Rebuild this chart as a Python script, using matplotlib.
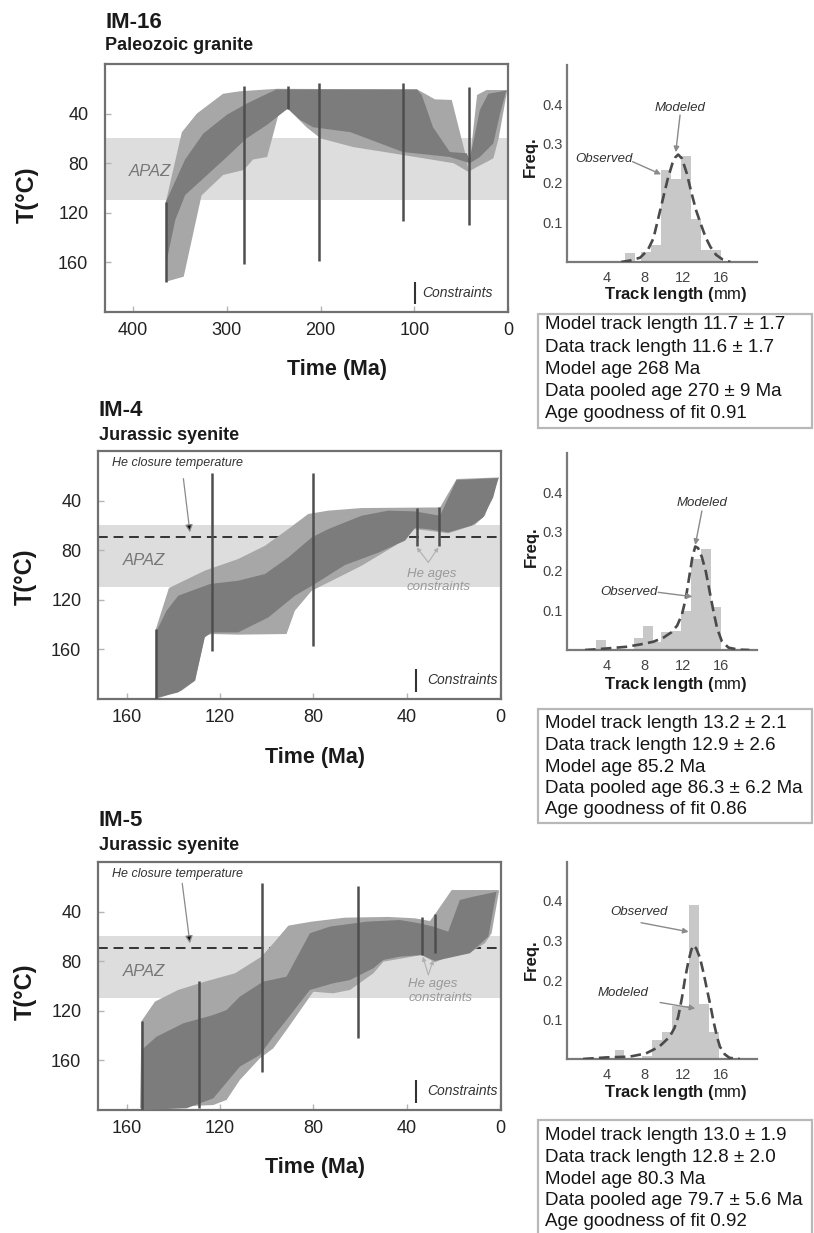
import matplotlib
matplotlib.use("Agg")
import matplotlib.pyplot as plt
from matplotlib.patches import Rectangle

plt.rcParams['font.family'] = ['Liberation Sans', 'DejaVu Sans']
plt.rcParams['mathtext.fontset'] = 'custom'
plt.rcParams['mathtext.rm'] = 'Liberation Sans'

# ---------------- data ----------------
APAZ = (60, 110)
HE_CLOSURE = 69
TT_YTICKS = [40, 80, 120, 160]

# IM-16 (Paleozoic granite)
IM16_XTICKS = [400, 300, 200, 100, 0]
IM16_light_up_t = [365, 348, 332, 318, 304, 286, 247, 97, 88.5, 78, 60, 44, 42, 33, 23, 1]
IM16_light_up_T = [111, 55, 40, 32, 24, 22, 20, 20.5, 24, 28.5, 29, 77, 87, 25, 21, 21]
IM16_light_lo_t = [1, 10, 15.6, 22.8, 33, 42.3, 58, 115, 165, 200, 215, 235, 245, 257, 272, 282, 304, 327, 346, 365]
IM16_light_lo_T = [22, 60, 76, 79, 83, 87, 80, 73, 67, 60, 51, 36, 41, 75, 77, 85.5, 89.5, 106, 171.5, 175.6]
IM16_dark_up_t = [365, 344.5, 325, 300, 279, 257, 247, 97, 92, 80, 62, 44, 41, 30, 21, 2]
IM16_dark_up_T = [111, 77, 56, 41, 32, 24, 20.5, 20.5, 25, 51, 71, 72, 77.4, 37, 24, 21.5]
IM16_dark_lo_t = [2, 8.5, 15.6, 30, 40.5, 62, 112, 168, 208, 222, 235, 257, 279, 300, 321, 344.5, 355, 364]
IM16_dark_lo_T = [22, 40, 64, 75, 80, 75, 71, 55, 51, 45, 36, 49, 60, 75, 89.5, 105.7, 125.8, 158]
IM16_cons_t = [365, 282, 235, 202, 112, 42]
IM16_cons_top = [111, 18, 18, 15, 15, 18.3]
IM16_cons_bot = [176, 161, 36, 159, 127, 130]

# IM-4 (Jurassic syenite)
IM4_XTICKS = [160, 120, 80, 40, 0]
IM4_light_up_t = [147.5, 141.9, 126.5, 112.2, 100.7, 90.7, 82.2, 73.6, 59.3, 25.7, 18.6, 0.4]
IM4_light_up_T = [143.6, 110.5, 96.5, 87.1, 76.4, 62.9, 50.8, 48.1, 46, 45.5, 22.6, 21.3]
IM4_light_lo_t = [0.4, 6.5, 10.7, 22.2, 30.7, 36.5, 45, 59.3, 70.7, 80.7, 87.9, 91.5, 112.2, 123.6, 126.5, 130.7, 136.5, 147.5]
IM4_light_lo_T = [21.3, 52.2, 59.4, 66.4, 64.3, 63, 76.4, 92.5, 103.3, 112.7, 128.8, 147.6, 148.1, 147.6, 149, 185.2, 193.3, 200]
IM4_dark_up_t = [147.5, 142.9, 137.9, 124.3, 112.2, 100.7, 90.7, 80.7, 73.6, 59.3, 47.9, 36.5, 25.7, 18.6, 0.7]
IM4_dark_up_T = [146.3, 128.8, 116.7, 107.3, 104.6, 99.2, 85.8, 69.7, 63, 52.2, 48.1, 48.7, 52.2, 23.4, 21.8]
IM4_dark_lo_t = [0.7, 2.9, 7.2, 12.2, 22.2, 30.7, 36.5, 40.7, 52.2, 66.5, 80, 87.9, 99.3, 112.2, 123.6, 126.5, 130.7, 137.9, 146.5, 147.5]
IM4_dark_lo_T = [21.8, 37.4, 53.5, 60.2, 65.6, 63, 62.1, 72.3, 82, 92, 108, 116.7, 134.2, 146.3, 146.3, 150.3, 185.2, 194.7, 198.7, 200]
IM4_cons_t = [147.5, 123.6, 80, 35.7, 26]
IM4_cons_top = [143.6, 18, 18, 46, 45.5]
IM4_cons_bot = [200, 161, 157, 77, 77]

# IM-5 (Jurassic syenite)
IM5_XTICKS = [160, 120, 80, 40, 0]
IM5_light_up_t = [153.6, 147.9, 137.9, 126.5, 113.6, 102.2, 96.5, 90.7, 80.7, 66.5, 47.9, 36.5, 30, 27.9, 20.7, 0.7]
IM5_light_up_T = [128.2, 112.6, 103.2, 96.5, 89.8, 76.3, 64.2, 51.3, 48.1, 44.9, 44.3, 45.4, 47.6, 42.2, 22.6, 22.6]
IM5_light_lo_t = [0.4, 3.6, 6.5, 12.2, 22.2, 27.9, 33.6, 50, 54.3, 64.3, 71.5, 80, 91.5, 97.2, 102.9, 111.5, 117.2, 122.9, 154.3]
IM5_light_lo_T = [23.4, 57.5, 65.6, 72.3, 76.3, 80.9, 75, 80.4, 89.8, 103.2, 105.9, 104.6, 135.5, 150.3, 158.3, 175.8, 191.9, 196, 198.6]
IM5_dark_up_t = [153.6, 147.2, 135.7, 122.9, 117.2, 111.5, 101.5, 91.5, 81.5, 72.9, 57.2, 42.9, 34.3, 28.6, 22.2, 17.2, 11.5, 1.5]
IM5_dark_up_T = [151.6, 140.9, 130.1, 123.4, 119.4, 108.6, 96.5, 92.5, 57.5, 52.1, 48.1, 46.8, 49.5, 52.1, 56.2, 30.6, 28, 24]
IM5_dark_lo_t = [1.5, 5, 12.9, 27.9, 33.6, 42.9, 50, 54.3, 64.3, 71.5, 81.5, 91.5, 97.2, 102.9, 111.5, 122.9, 134.3, 153.6]
IM5_dark_lo_T = [24, 60.2, 73.6, 79.8, 75, 76.3, 79, 85.7, 95.2, 97.8, 103.2, 127.4, 140.9, 155.6, 165, 190.6, 198.6, 200]
IM5_cons_t = [153.6, 128.9, 101.9, 61, 33.6, 27.9]
IM5_cons_top = [128.2, 96, 17.2, 19.1, 44.1, 42.2]
IM5_cons_bot = [200, 198.7, 169.1, 141.7, 75, 73.6]

# Track-length histograms
HIST_XTICKS = [4, 8, 12, 16]
HIST_YTICKS = [0.1, 0.2, 0.3, 0.4]
H1_left = [5.9, 7.6, 8.6, 9.65, 10.7, 11.8, 12.85, 13.9, 14.95]
H1_freq = [0.022, 0.026, 0.043, 0.233, 0.21, 0.268, 0.108, 0.03, 0.03]
H1_cx = [5.5, 6.5, 7.5, 8.3, 8.9, 9.4, 9.9, 10.4, 10.9, 11.2, 11.5, 11.9, 12.4, 12.9, 13.4, 13.9, 14.4, 14.9, 15.5, 16.2, 17.0]
H1_cy = [0.0, 0.004, 0.011, 0.03, 0.06, 0.11, 0.16, 0.21, 0.25, 0.265, 0.272, 0.262, 0.225, 0.175, 0.13, 0.095, 0.062, 0.038, 0.018, 0.006, 0.0]
H2_left = [2.9, 6.8, 7.75, 8.7, 9.7, 10.7, 11.75, 12.85, 13.9, 14.95]
H2_freq = [0.025, 0.03, 0.06, 0.02, 0.045, 0.047, 0.098, 0.23, 0.256, 0.11]
H2_cx = [1.7, 3.0, 4.5, 6.0, 7.5, 8.9, 10.0, 10.8, 11.4, 11.9, 12.3, 12.7, 13.0, 13.3, 13.6, 14.0, 14.4, 14.8, 15.2, 15.6, 16.1, 16.8, 17.8, 19.0]
H2_cy = [0.0, 0.002, 0.005, 0.008, 0.014, 0.021, 0.032, 0.045, 0.062, 0.09, 0.13, 0.19, 0.235, 0.262, 0.258, 0.235, 0.2, 0.15, 0.1, 0.055, 0.022, 0.006, 0.001, 0.0]
H3_left = [4.8, 7.65, 8.7, 9.85, 10.9, 11.75, 12.6, 13.65, 14.75]
H3_freq = [0.022, 0.008, 0.047, 0.068, 0.135, 0.135, 0.39, 0.14, 0.068]
H3_cx = [1.5, 3.9, 6.4, 8.1, 9.5, 10.6, 11.1, 11.5, 11.9, 12.2, 12.6, 12.9, 13.1, 13.4, 13.8, 14.2, 14.5, 14.9, 15.2, 15.6, 15.9, 16.4, 16.9, 18.0]
H3_cy = [0.0, 0.004, 0.006, 0.014, 0.031, 0.056, 0.078, 0.106, 0.155, 0.2, 0.25, 0.277, 0.288, 0.28, 0.256, 0.215, 0.18, 0.135, 0.098, 0.055, 0.031, 0.012, 0.003, 0.0]

BOX1 = ["Model track length 11.7 ± 1.7", "Data track length 11.6 ± 1.7", "Model age 268 Ma",
        "Data pooled age 270 ± 9 Ma", "Age goodness of fit 0.91"]
BOX2 = ["Model track length 13.2 ± 2.1", "Data track length 12.9 ± 2.6", "Model age 85.2 Ma",
        "Data pooled age 86.3 ± 6.2 Ma", "Age goodness of fit 0.86"]
BOX3 = ["Model track length 13.0 ± 1.9", "Data track length 12.8 ± 2.0", "Model age 80.3 Ma",
        "Data pooled age 79.7 ± 5.6 Ma", "Age goodness of fit 0.92"]

# ---------------- layout helpers ----------------
W, H = 814, 1233
fig = plt.figure(figsize=(W / 100, H / 100), dpi=100)


def add_ax(l, t, r, b):
    return fig.add_axes([l / W, 1 - b / H, (r - l) / W, (b - t) / H])


def ftext(x, y, s, **kw):
    kw.setdefault('va', 'center')
    fig.text(x / W, 1 - y / H, s, **kw)


LIGHT = '#a7a7a7'
DARK = '#7c7c7c'
CONS = '#4e4e4e'


def draw_tt(ax, xlim, xticks, lu, ll, du, dl, cons, he):
    ax.set_xlim(*xlim)
    ax.set_ylim(200, 0)
    ax.axhspan(APAZ[0], APAZ[1], color='#dddddd', lw=0, zorder=0)
    if he:
        ax.axhline(HE_CLOSURE, color='#333333', lw=1.4, ls=(0, (5, 3)), zorder=1)
    ax.fill(list(lu[0]) + list(ll[0]), list(lu[1]) + list(ll[1]), color=LIGHT, lw=0, zorder=2)
    ax.fill(list(du[0]) + list(dl[0]), list(du[1]) + list(dl[1]), color=DARK, lw=0, zorder=3)
    ax.vlines(cons[0], cons[1], cons[2], color=CONS, lw=1.8, zorder=4)
    ax.set_xticks(xticks)
    ax.set_xticklabels([str(v) for v in xticks])
    ax.set_yticks(TT_YTICKS)
    ax.tick_params(direction='in', length=4, width=1, color='#b5b5b5',
                   labelsize=13, labelcolor='#222222')
    ax.tick_params(axis='y', pad=12)
    ax.tick_params(axis='x', pad=7.5)
    for s in ax.spines.values():
        s.set_color('#707070')
        s.set_linewidth(1.6)


def draw_hist(ax, left, freq, cx, cy):
    ax.bar(left, freq, width=1.05, align='edge', color='#c8c8c8', lw=0, zorder=1)
    ax.plot(cx, cy, color='#4a4a4a', lw=1.9, ls=(0, (4, 2)), zorder=3)
    ax.set_xlim(-0.2, 19.8)
    ax.set_ylim(0, 0.5)
    ax.spines['top'].set_visible(False)
    ax.spines['right'].set_visible(False)
    for s in ('left', 'bottom'):
        ax.spines[s].set_color('#7a7a7a')
        ax.spines[s].set_linewidth(1.6)
    ax.set_xticks(HIST_XTICKS)
    ax.set_xticklabels([str(v) for v in HIST_XTICKS])
    ax.set_yticks(HIST_YTICKS)
    ax.set_yticklabels([f"{v:.1f}" for v in HIST_YTICKS])
    ax.tick_params(length=0, labelsize=10.5, labelcolor='#444444')
    ax.tick_params(axis='y', pad=3)
    ax.tick_params(axis='x', pad=6.5)
    ax.patch.set_alpha(0)


def hist_note(ax, text, txy, start, end):
    ax.text(txy[0], txy[1], text, ha='center', va='center', fontsize=9.5,
            style='italic', color='#333333')
    ax.annotate('', xy=end, xytext=start,
                arrowprops=dict(arrowstyle='-|>', color='#8a8a8a', lw=1.0,
                                mutation_scale=8, shrinkA=0, shrinkB=0))


def box(top, bottom, lines, y0, dy):
    fig.add_artist(Rectangle((538 / W, 1 - bottom / H), (812 - 538) / W, (bottom - top) / H,
                             transform=fig.transFigure, fill=False, ec='#b8b8b8', lw=1.6))
    for i, s in enumerate(lines):
        ftext(545, y0 + dy * i, s, fontsize=13.5, color='#151515')


TRACK_LABEL = 'Track length (' + r'$\mathrm{mm}$' + ')'

# ---------------- panel 1 : IM-16 ----------------
ax1 = add_ax(105, 64, 508, 312)
draw_tt(ax1, (430, 0), IM16_XTICKS,
        (IM16_light_up_t, IM16_light_up_T), (IM16_light_lo_t, IM16_light_lo_T),
        (IM16_dark_up_t, IM16_dark_up_T), (IM16_dark_lo_t, IM16_dark_lo_T),
        (IM16_cons_t, IM16_cons_top, IM16_cons_bot), he=False)
ax1.text(405, 87, 'APAZ', style='italic', fontsize=12, color='#777777', va='center', zorder=5)
ax1.vlines(99, 176, 193.5, color='#333333', lw=1.5, zorder=5)
ax1.text(92, 185, 'Constraints', style='italic', fontsize=10, color='#333333', va='center', zorder=5)
ftext(105, 22, 'IM-16', fontsize=16, fontweight='bold', color='#1a1a1a')
ftext(105, 46, 'Paleozoic granite', fontsize=13, fontweight='bold', color='#1a1a1a')
ftext(27, 195, 'T(°C)', fontsize=17, fontweight='bold', rotation=90, ha='center', color='#1a1a1a')
ftext(337, 370, 'Time (Ma)', fontsize=15.5, fontweight='bold', ha='center', color='#1a1a1a')

hx1 = add_ax(567, 64.5, 757, 262)
draw_hist(hx1, H1_left, H1_freq, H1_cx, H1_cy)
hist_note(hx1, 'Modeled', (11.7, 0.39), (11.7, 0.372), (11.25, 0.278))
hist_note(hx1, 'Observed', (3.7, 0.262), (6.7, 0.254), (9.7, 0.222))
ftext(530, 157, 'Freq.', fontsize=12, fontweight='bold', rotation=90, ha='center', color='#1a1a1a')
ftext(676, 295, TRACK_LABEL, fontsize=12, fontweight='bold', ha='center', color='#1a1a1a')
box(314, 428, BOX1, 325, 22)

# ---------------- panel 2 : IM-4 ----------------
ax2 = add_ax(98, 451, 501, 699)
draw_tt(ax2, (172.3, -0.43), IM4_XTICKS,
        (IM4_light_up_t, IM4_light_up_T), (IM4_light_lo_t, IM4_light_lo_T),
        (IM4_dark_up_t, IM4_dark_up_T), (IM4_dark_lo_t, IM4_dark_lo_T),
        (IM4_cons_t, IM4_cons_top, IM4_cons_bot), he=True)

# ---------------- panel 3 : IM-5 ----------------
ax3 = add_ax(98, 862, 501, 1110)
draw_tt(ax3, (172.3, -0.43), IM5_XTICKS,
        (IM5_light_up_t, IM5_light_up_T), (IM5_light_lo_t, IM5_light_lo_T),
        (IM5_dark_up_t, IM5_dark_up_T), (IM5_dark_lo_t, IM5_dark_lo_T),
        (IM5_cons_t, IM5_cons_top, IM5_cons_bot), he=True)

for ax, vtx, tips, he_txt, arr0 in (
        (ax2, (30.7, 89.8), [(35.7, 77.7), (26.4, 77.7)], (40, 99, 110), (135.7, 22.3)),
        (ax3, (30.7, 91.0), [(33.1, 76.4), (28.6, 79.0)], (39.3, 98, 110), (136.2, 17.2))):
    ax.text(161.5, 88, 'APAZ', style='italic', fontsize=12, color='#777777', va='center', zorder=5)
    ax.vlines(36.1, 176, 194, color='#333333', lw=1.5, zorder=5)
    ax.text(31.4, 185, 'Constraints', style='italic', fontsize=10, color='#333333', va='center', zorder=5)
    ax.text(166.4, 10, 'He closure temperature', style='italic', fontsize=9, color='#333333',
            va='center', zorder=5)
    ax.annotate('', xy=(132.9, 65.6), xytext=arr0,
                arrowprops=dict(arrowstyle='-|>', ec='#8a8a8a', fc='#111111', lw=0.9,
                                mutation_scale=11, shrinkA=0, shrinkB=0), zorder=5)
    ax.text(he_txt[0], he_txt[1], 'He ages', style='italic', fontsize=9.5, color='#9a9a9a',
            va='center', zorder=5)
    ax.text(he_txt[0], he_txt[2], 'constraints', style='italic', fontsize=9.5, color='#9a9a9a',
            va='center', zorder=5)
    for tip in tips:
        ax.annotate('', xy=tip, xytext=vtx,
                    arrowprops=dict(arrowstyle='-|>', color='#b0b0b0', lw=0.8,
                                    mutation_scale=6, shrinkA=0, shrinkB=0), zorder=5)

ftext(99, 411, 'IM-4', fontsize=16, fontweight='bold', color='#1a1a1a')
ftext(99, 436, 'Jurassic syenite', fontsize=13, fontweight='bold', color='#1a1a1a')
ftext(25, 577, 'T(°C)', fontsize=17, fontweight='bold', rotation=90, ha='center', color='#1a1a1a')
ftext(315, 757, 'Time (Ma)', fontsize=15.5, fontweight='bold', ha='center', color='#1a1a1a')

ftext(99, 821, 'IM-5', fontsize=16, fontweight='bold', color='#1a1a1a')
ftext(99, 845, 'Jurassic syenite', fontsize=13, fontweight='bold', color='#1a1a1a')
ftext(25, 992, 'T(°C)', fontsize=17, fontweight='bold', rotation=90, ha='center', color='#1a1a1a')
ftext(315, 1168, 'Time (Ma)', fontsize=15.5, fontweight='bold', ha='center', color='#1a1a1a')

hx2 = add_ax(567, 452.5, 757, 650)
draw_hist(hx2, H2_left, H2_freq, H2_cx, H2_cy)
hist_note(hx2, 'Modeled', (14.0, 0.372), (14.0, 0.352), (13.3, 0.266))
hist_note(hx2, 'Observed', (6.3, 0.146), (9.4, 0.146), (13.0, 0.135))
ftext(531, 547, 'Freq.', fontsize=12, fontweight='bold', rotation=90, ha='center', color='#1a1a1a')
ftext(676, 685, TRACK_LABEL, fontsize=12, fontweight='bold', ha='center', color='#1a1a1a')
box(709, 823, BOX2, 724, 21.5)

hx3 = add_ax(567, 861.5, 757, 1059)
draw_hist(hx3, H3_left, H3_freq, H3_cx, H3_cy)
hist_note(hx3, 'Observed', (7.4, 0.373), (7.6, 0.345), (12.6, 0.322))
hist_note(hx3, 'Modeled', (5.7, 0.166), (9.6, 0.143), (13.3, 0.128))
ftext(531, 960, 'Freq.', fontsize=12, fontweight='bold', rotation=90, ha='center', color='#1a1a1a')
ftext(676, 1092, TRACK_LABEL, fontsize=12, fontweight='bold', ha='center', color='#1a1a1a')
box(1120, 1245, BOX3, 1136, 21.5)

fig.savefig('out.png', dpi=100)
